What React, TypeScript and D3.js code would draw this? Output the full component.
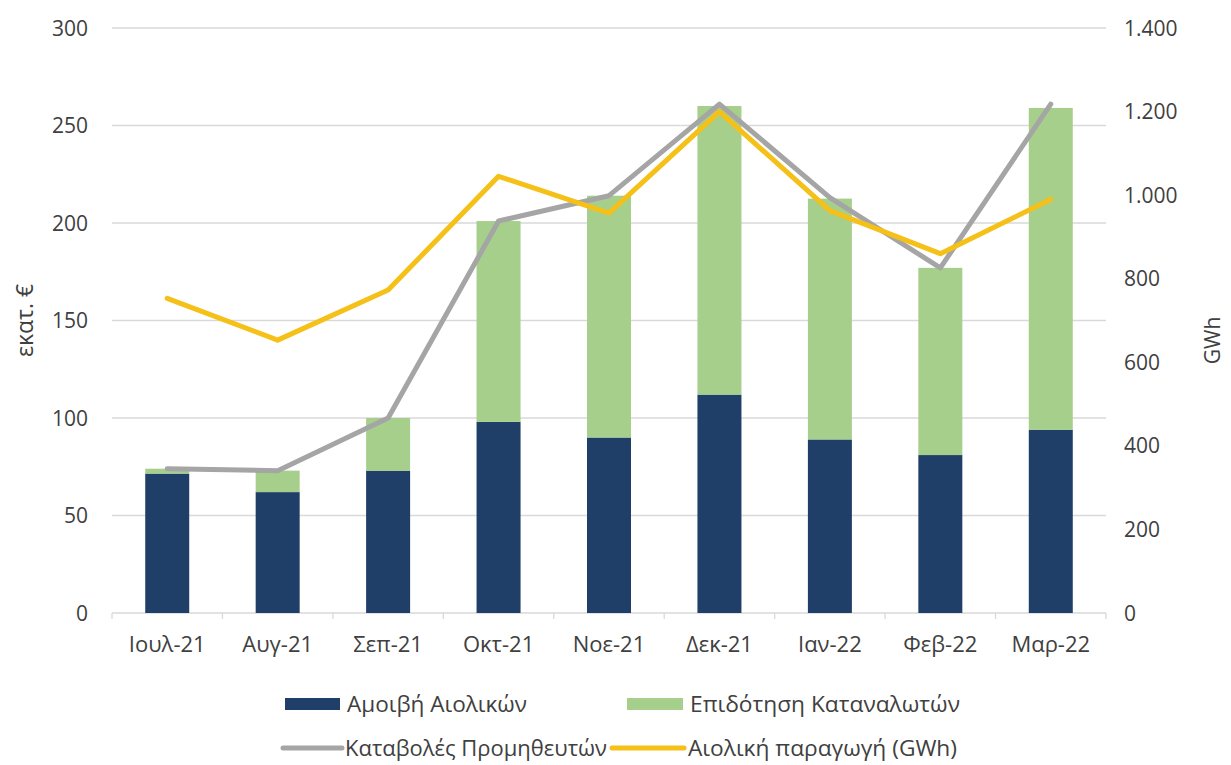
import * as d3 from "d3";
import React from "react";

const months = ["Ιουλ-21", "Αυγ-21", "Σεπ-21", "Οκτ-21", "Νοε-21", "Δεκ-21", "Ιαν-22", "Φεβ-22", "Μαρ-22"];
// εκατ. €
const amoivi = [71.5, 62, 73, 98, 90, 112, 89, 81, 94];
const epidotisi = [2.5, 11, 27, 103, 124, 148, 123.5, 96, 165];
const katavoles = [74, 73, 100, 201, 214, 261, 213, 177, 261];
// GWh
const paragogi = [753, 653, 773, 1045, 957, 1200, 963, 860, 990];

const leftTicks = [0, 50, 100, 150, 200, 250, 300];
const rightTicks = [0, 200, 400, 600, 800, 1000, 1200, 1400];

const W = 1231;
const H = 765;
const mLeft = 112;
const mRight = 1106;
const mTop = 28;
const mBottom = 613;

const NAVY = "#1f3f68";
const GREEN = "#a6cf8c";
const GRAY = "#a5a5a5";
const YELLOW = "#f5c018";
const TEXT = "#404040";
const GRID = "#d9d9d9";
const FONT = "'Open Sans', 'Noto Sans', sans-serif";

export default function App() {
  const band = d3.scaleBand<string>().domain(months).range([mLeft, mRight]);
  const yL = d3.scaleLinear().domain([0, 300]).range([mBottom, mTop]);
  const yR = d3.scaleLinear().domain([0, 1400]).range([mBottom, mTop]);
  const fmt = d3.formatLocale({ decimal: ",", thousands: ".", grouping: [3], currency: ["", "€"] }).format(",d");

  const cx = (m: string) => (band(m) as number) + band.bandwidth() / 2;

  const grayLine = d3
    .line<number>()
    .x((_, i) => cx(months[i]))
    .y((d) => yL(d));
  const yellowLine = d3
    .line<number>()
    .x((_, i) => cx(months[i]))
    .y((d) => yR(d));

  const bw = 44;

  return (
    <div style={{ position: "fixed", left: 0, top: 0 }}>
      <svg width={W} height={H} style={{ display: "block", background: "#fff" }} fontFamily={FONT}>
        {leftTicks.map((t) => (
          <g key={"g" + t}>
            {t > 0 && <line x1={mLeft} x2={mRight} y1={yL(t)} y2={yL(t)} stroke={GRID} strokeWidth={1.3} />}
            <text x={88} y={yL(t)} dy="0.36em" textAnchor="end" fontSize={21} fill={TEXT}>
              {t}
            </text>
          </g>
        ))}
        {rightTicks.map((t) => (
          <text key={"r" + t} x={1124} y={yR(t)} dy="0.36em" textAnchor="start" fontSize={21} fill={TEXT}>
            {fmt(t)}
          </text>
        ))}
        {/* x axis */}
        <line x1={mLeft} x2={mRight} y1={mBottom} y2={mBottom} stroke={GRID} strokeWidth={1.3} />
        {months.map((m) => (
          <line key={"tk" + m} x1={band(m) as number} x2={band(m) as number} y1={mBottom} y2={mBottom + 6} stroke={GRID} strokeWidth={1.3} />
        ))}
        <line x1={mRight} x2={mRight} y1={mBottom} y2={mBottom + 6} stroke={GRID} strokeWidth={1.3} />
        {months.map((m) => (
          <text key={"xl" + m} x={cx(m)} y={644} dy="0.36em" textAnchor="middle" fontSize={22} fill={TEXT}>
            {m}
          </text>
        ))}
        {/* bars */}
        {months.map((m, i) => (
          <g key={"b" + m}>
            <rect x={cx(m) - bw / 2} width={bw} y={yL(amoivi[i])} height={yL(0) - yL(amoivi[i])} fill={NAVY} />
            <rect
              x={cx(m) - bw / 2}
              width={bw}
              y={yL(amoivi[i] + epidotisi[i])}
              height={yL(amoivi[i]) - yL(amoivi[i] + epidotisi[i])}
              fill={GREEN}
            />
          </g>
        ))}
        <path d={grayLine(katavoles) as string} fill="none" stroke={GRAY} strokeWidth={5} strokeLinejoin="round" strokeLinecap="round" />
        <path d={yellowLine(paragogi) as string} fill="none" stroke={YELLOW} strokeWidth={5} strokeLinejoin="round" strokeLinecap="round" />
        {/* axis titles */}
        <text transform={`translate(25,${(mTop + mBottom) / 2}) rotate(-90)`} dy="0.36em" textAnchor="middle" fontSize={23} fill={TEXT}>
          εκατ. €
        </text>
        <text transform={`translate(1212,${(mTop + mBottom) / 2 + 20}) rotate(-90)`} dy="0.36em" textAnchor="middle" fontSize={21} fill={TEXT}>
          GWh
        </text>
        {/* legend */}
        <rect x={285} y={698} width={55} height={12} fill={NAVY} />
        <text x={347} y={704} dy="0.36em" fontSize={21} fill={TEXT} textLength={180} lengthAdjust="spacingAndGlyphs">
          Αμοιβή Αιολικών
        </text>
        <rect x={627} y={698} width={56} height={12} fill={GREEN} />
        <text x={690} y={704} dy="0.36em" fontSize={21} fill={TEXT} textLength={270} lengthAdjust="spacingAndGlyphs">
          Επιδότηση Καταναλωτών
        </text>
        <line x1={283} x2={342} y1={748} y2={748} stroke={GRAY} strokeWidth={5} strokeLinecap="round" />
        <text x={345} y={748} dy="0.36em" fontSize={21} fill={TEXT} textLength={262} lengthAdjust="spacingAndGlyphs">
          Καταβολές Προμηθευτών
        </text>
        <line x1={612} x2={684} y1={748} y2={748} stroke={YELLOW} strokeWidth={5} strokeLinecap="round" />
        <text x={688} y={748} dy="0.36em" fontSize={21} fill={TEXT} textLength={269} lengthAdjust="spacingAndGlyphs">
          Αιολική παραγωγή (GWh)
        </text>
      </svg>
    </div>
  );
}
